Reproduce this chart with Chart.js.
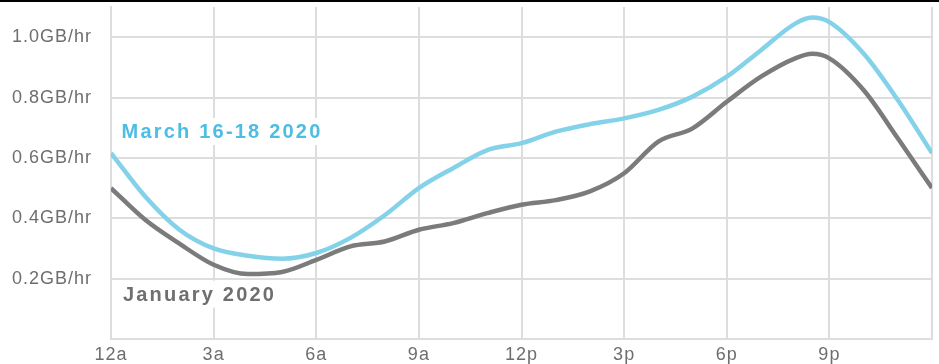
<!DOCTYPE html>
<html>
<head>
<meta charset="utf-8">
<script src="https://cdn.jsdelivr.net/npm/chart.js@4"></script>
<style>
  html, body { margin: 0; padding: 0; background: #fff; }
  #wrap { width: 939px; height: 364px; position: relative; }
</style>
</head>
<body>
<div id="wrap"><canvas id="myChart"></canvas></div>
<script>
// heures de la journée (0 = minuit)
var hours   = [0, 1, 2, 3, 4, 5, 6, 7, 8, 9, 10, 11, 12, 13, 14, 15, 16, 17, 18, 19, 20, 20.5, 21, 22, 23, 24];
// consommation moyenne en GB/hr
var march   = [0.616, 0.472, 0.362, 0.300, 0.276, 0.266, 0.285, 0.335, 0.410, 0.500, 0.566, 0.626, 0.649, 0.687, 0.712, 0.731, 0.759, 0.803, 0.869, 0.957, 1.045, 1.065, 1.050, 0.946, 0.792, 0.616];
var january = [0.500, 0.395, 0.316, 0.246, 0.215, 0.222, 0.262, 0.307, 0.323, 0.362, 0.384, 0.417, 0.445, 0.460, 0.489, 0.549, 0.654, 0.698, 0.786, 0.869, 0.930, 0.945, 0.930, 0.825, 0.665, 0.500];

var xTicks = [0, 3, 6, 9, 12, 15, 18, 21, 24];
var xTickLabels = ['12a', '3a', '6a', '9a', '12p', '3p', '6p', '9p', ''];
var yTicks = [0.2, 0.4, 0.6, 0.8, 1.0];

var marchLabel = 'March 16-18 2020';
var januaryLabel = 'January 2020';

function toPoints(values) {
  return values.map(function(v, i) { return { x: hours[i], y: v }; });
}

// pas de marge auto autour des axes
function noPadding(scale) {
  scale.paddingTop = 0;
  scale.paddingBottom = 0;
  scale.paddingLeft = 0;
  scale.paddingRight = 0;
}

// étiquettes des séries + trait noir en haut
var seriesLabels = {
  id: 'seriesLabels',
  beforeDraw: function(chart) {
    chart.ctx.letterSpacing = '1px';
  },
  beforeDatasetsDraw: function(chart, args, opts) {
    var ctx = chart.ctx;
    ctx.save();
    ctx.font = opts.font;
    ctx.letterSpacing = opts.spacing;
    opts.items.forEach(function(it) {
      var px = chart.scales.x.getPixelForValue(it.x);
      var py = chart.scales.y.getPixelForValue(it.y);
      var w = ctx.measureText(it.text).width;
      ctx.fillStyle = '#fff';
      ctx.fillRect(px - 4, py - 20, w + 8, 27);
    });
    ctx.restore();
  },
  afterDatasetsDraw: function(chart, args, opts) {
    var ctx = chart.ctx;
    ctx.save();
    ctx.font = opts.font;
    ctx.letterSpacing = opts.spacing;
    ctx.textBaseline = 'alphabetic';
    ctx.textAlign = 'left';
    opts.items.forEach(function(it) {
      ctx.fillStyle = it.color;
      ctx.fillText(it.text, chart.scales.x.getPixelForValue(it.x), chart.scales.y.getPixelForValue(it.y));
    });
    ctx.fillStyle = '#000';
    ctx.fillRect(0, 0, chart.width, 2);
    ctx.restore();
  }
};

var ctx = document.getElementById('myChart').getContext('2d');
var myChart = new Chart(ctx, {
  type: 'line',
  data: {
    datasets: [{
      label: marchLabel,
      data: toPoints(march),
      borderColor: '#84d2ea',
      borderWidth: 4.5,
      pointRadius: 0,
      cubicInterpolationMode: 'monotone'
    }, {
      label: januaryLabel,
      data: toPoints(january),
      borderColor: '#7b7b7b',
      borderWidth: 4.5,
      pointRadius: 0,
      cubicInterpolationMode: 'monotone'
    }]
  },
  options: {
    responsive: true,
    maintainAspectRatio: false,
    animation: false,
    layout: { padding: { top: 7, right: 7, left: 0, bottom: 0 } },
    plugins: {
      legend: { display: false },
      tooltip: { enabled: false },
      seriesLabels: {
        font: 'bold 20px "Liberation Sans", Arial, sans-serif',
        spacing: '2.2px',
        items: [
          { text: marchLabel, x: 0.31, y: 0.666, color: '#4dbde3' },
          { text: januaryLabel, x: 0.35, y: 0.127, color: '#6f6f6f' }
        ]
      }
    },
    scales: {
      x: {
        type: 'linear',
        min: 0,
        max: 24,
        afterBuildTicks: function(scale) {
          scale.ticks = xTicks.map(function(v) { return { value: v }; });
        },
        afterFit: function(scale) { scale.height = 25; noPadding(scale); },
        grid: { color: '#dddddd', lineWidth: 2, drawTicks: false },
        border: { color: '#dddddd', width: 2 },
        ticks: {
          padding: 5,
          color: '#6e6e6e',
          font: { family: '"Liberation Sans", Arial, sans-serif', size: 18 },
          maxRotation: 0,
          autoSkip: false,
          callback: function(value) {
            return xTickLabels[xTicks.indexOf(value)];
          }
        }
      },
      y: {
        min: 0,
        max: 1.1,
        afterBuildTicks: function(scale) {
          scale.ticks = yTicks.map(function(v) { return { value: v }; });
        },
        afterFit: function(scale) { scale.width = 111; noPadding(scale); },
        grid: { color: '#dddddd', lineWidth: 2, drawTicks: false },
        border: { color: '#dddddd', width: 2 },
        ticks: {
          padding: 19,
          color: '#6e6e6e',
          font: { family: '"Liberation Sans", Arial, sans-serif', size: 18 },
          callback: function(value) {
            return value.toFixed(1) + 'GB/hr';
          }
        }
      }
    }
  },
  plugins: [seriesLabels]
});
</script>
</body>
</html>
